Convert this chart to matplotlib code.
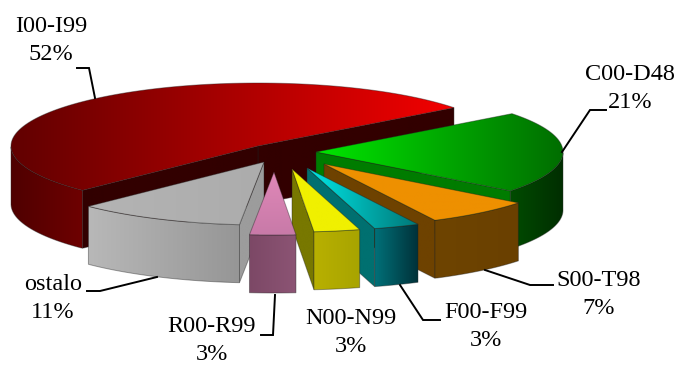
import numpy as np
import matplotlib
matplotlib.use("Agg")
import matplotlib.pyplot as plt
from matplotlib.patches import Polygon
from matplotlib.colors import to_rgb

plt.rcParams["font.family"] = ["Liberation Serif", "DejaVu Serif"]

# draw order runs back to front, shares in percent
labels = ["I00-I99", "C00-D48", "S00-T98", "F00-F99", "ostalo", "N00-N99", "R00-R99"]
shares = [52, 21, 7, 3, 11, 3, 3]

# clockwise order of the slices around the pie, starting at the first cut
pie_order = ["C00-D48", "S00-T98", "F00-F99", "N00-N99", "R00-R99", "ostalo", "I00-I99"]
start_angle = 37.5

# how far each slice is pulled out of the pie centre
explode = {"I00-I99": (-22, -7), "C00-D48": (36, -1), "S00-T98": (44, 11), "F00-F99": (27, 15),
           "ostalo": (-16, 9), "N00-N99": (12, 16), "R00-R99": (-6, 19)}

# top left/right, wall, rim left/right
styles = {
    "I00-I99": ("#620000", "#f20000", "#320000", "#4f0000", "#6e0000"),
    "C00-D48": ("#00e600", "#006e00", "#007c00", "#004c00", "#002e00"),
    "S00-T98": ("#ee9000", "#ee9000", "#6e4200", "#6e4400", "#6a4000"),
    "F00-F99": ("#00e6e6", "#007878", "#007070", "#007078", "#003038"),
    "ostalo": ("#b4b4b4", "#acacac", "#9c9c9c", "#b8b8b8", "#969696"),
    "N00-N99": ("#f0f000", "#f0f000", "#787800", "#b8b000", "#a8a400"),
    "R00-R99": ("#e088b8", "#c87aa8", "#7c4866", "#7c4866", "#8c5474"),
}

center = (280, 153)
rx, ry = 247, 63
depth = 58
line_gap = 28

label_pos = {"I00-I99": (51, 27), "C00-D48": (630, 75), "S00-T98": (599, 280),
             "F00-F99": (486, 312), "ostalo": (53, 285), "N00-N99": (351, 319),
             "R00-R99": (212, 326)}
leaders = {
    "I00-I99": [(77, 68), (89, 68), (95, 98)],
    "C00-D48": [(606, 110), (590, 110), (562, 152)],
    "S00-T98": [(553, 285), (530, 285), (485, 270)],
    "F00-F99": [(440, 320), (423, 320), (400, 285)],
    "ostalo": [(87, 291), (100, 291), (157, 277)],
    "R00-R99": [(261, 335), (273, 335), (275, 295)],
}

fig = plt.figure(figsize=(6.76, 3.65), dpi=100)
ax = fig.add_axes([0, 0, 1, 1])
ax.axis("off")


def fill(pts, c0, c1, vertical=False, zorder=1):
    # polygon with a two colour linear gradient, clipped from an image
    pts = np.asarray(pts)
    x0, x1 = pts[:, 0].min(), pts[:, 0].max()
    y0, y1 = pts[:, 1].min(), pts[:, 1].max()
    ramp = np.linspace(0, 1, 64)[:, None]
    grad = (1 - ramp) * np.array(to_rgb(c0)) + ramp * np.array(to_rgb(c1))
    grad = grad[:, None, :] if vertical else grad[None, :, :]
    im = ax.imshow(grad, extent=(x0, x1, y1, y0), origin="upper", aspect="auto",
                   interpolation="bilinear", zorder=zorder)
    patch = Polygon(pts, closed=True, fc="none", ec="none", transform=ax.transData)
    ax.add_patch(patch)
    im.set_clip_path(patch)
    ax.add_patch(Polygon(pts, closed=True, fc="none", ec=(0.12, 0.12, 0.12, 0.4),
                         lw=0.7, zorder=zorder))


def ellipse_pts(apex, t):
    t = np.radians(t)
    return np.column_stack([apex[0] + rx * np.cos(t), apex[1] - ry * np.sin(t)])


# slice angles come from the cumulative shares, running clockwise from the first cut
spans = {}
angle = start_angle
for name in pie_order:
    share = shares[labels.index(name)]
    spans[name] = (angle - share * 3.6, angle)
    angle -= share * 3.6

z = 1
for name in labels:
    lo, hi = spans[name]
    apex = np.array(center, dtype=float) + explode[name]
    top_l, top_r, wall, rim_l, rim_r = styles[name]

    arc_t = np.linspace(lo, hi, 120)
    arc = ellipse_pts(apex, arc_t)
    inside = ellipse_pts(apex, [(lo + hi) / 2])[0] - apex

    # cut walls, only the ones turned towards the viewer
    for t in (lo, hi):
        p = ellipse_pts(apex, [t])[0]
        d = p - apex
        side_in = d[0] * inside[1] - d[1] * inside[0]
        side_down = d[0] * depth
        if side_in * side_down < 0:
            quad = [apex, p, p + (0, depth), apex + (0, depth)]
            fill(quad, wall, wall, zorder=z)
    z += 1

    # outer rim, front half of the ellipse only
    s = np.sin(np.radians(arc_t)) <= 0
    if s.sum() > 1:
        front = arc[s]
        rim = np.vstack([front, (front + (0, depth))[::-1]])
        fill(rim, rim_l, rim_r, zorder=z)
        z += 1

    top = np.vstack([apex, arc])
    fill(top, top_l, top_r, vertical=name == "R00-R99", zorder=z)
    z += 1

    x, y = label_pos[name]
    ax.text(x, y, name, ha="center", va="center", fontsize=17.5, color="black", zorder=50)
    ax.text(x, y + line_gap, f"{shares[labels.index(name)]}%", ha="center", va="center",
            fontsize=17.5, color="black", zorder=50)

for name, pts in leaders.items():
    pts = np.array(pts)
    ax.plot(pts[:, 0], pts[:, 1], color="black", lw=1.4, solid_joinstyle="miter", zorder=40)

ax.set_xlim(0, 676)
ax.set_ylim(365, 0)
fig.savefig("out.png", dpi=100)
plt.close(fig)
